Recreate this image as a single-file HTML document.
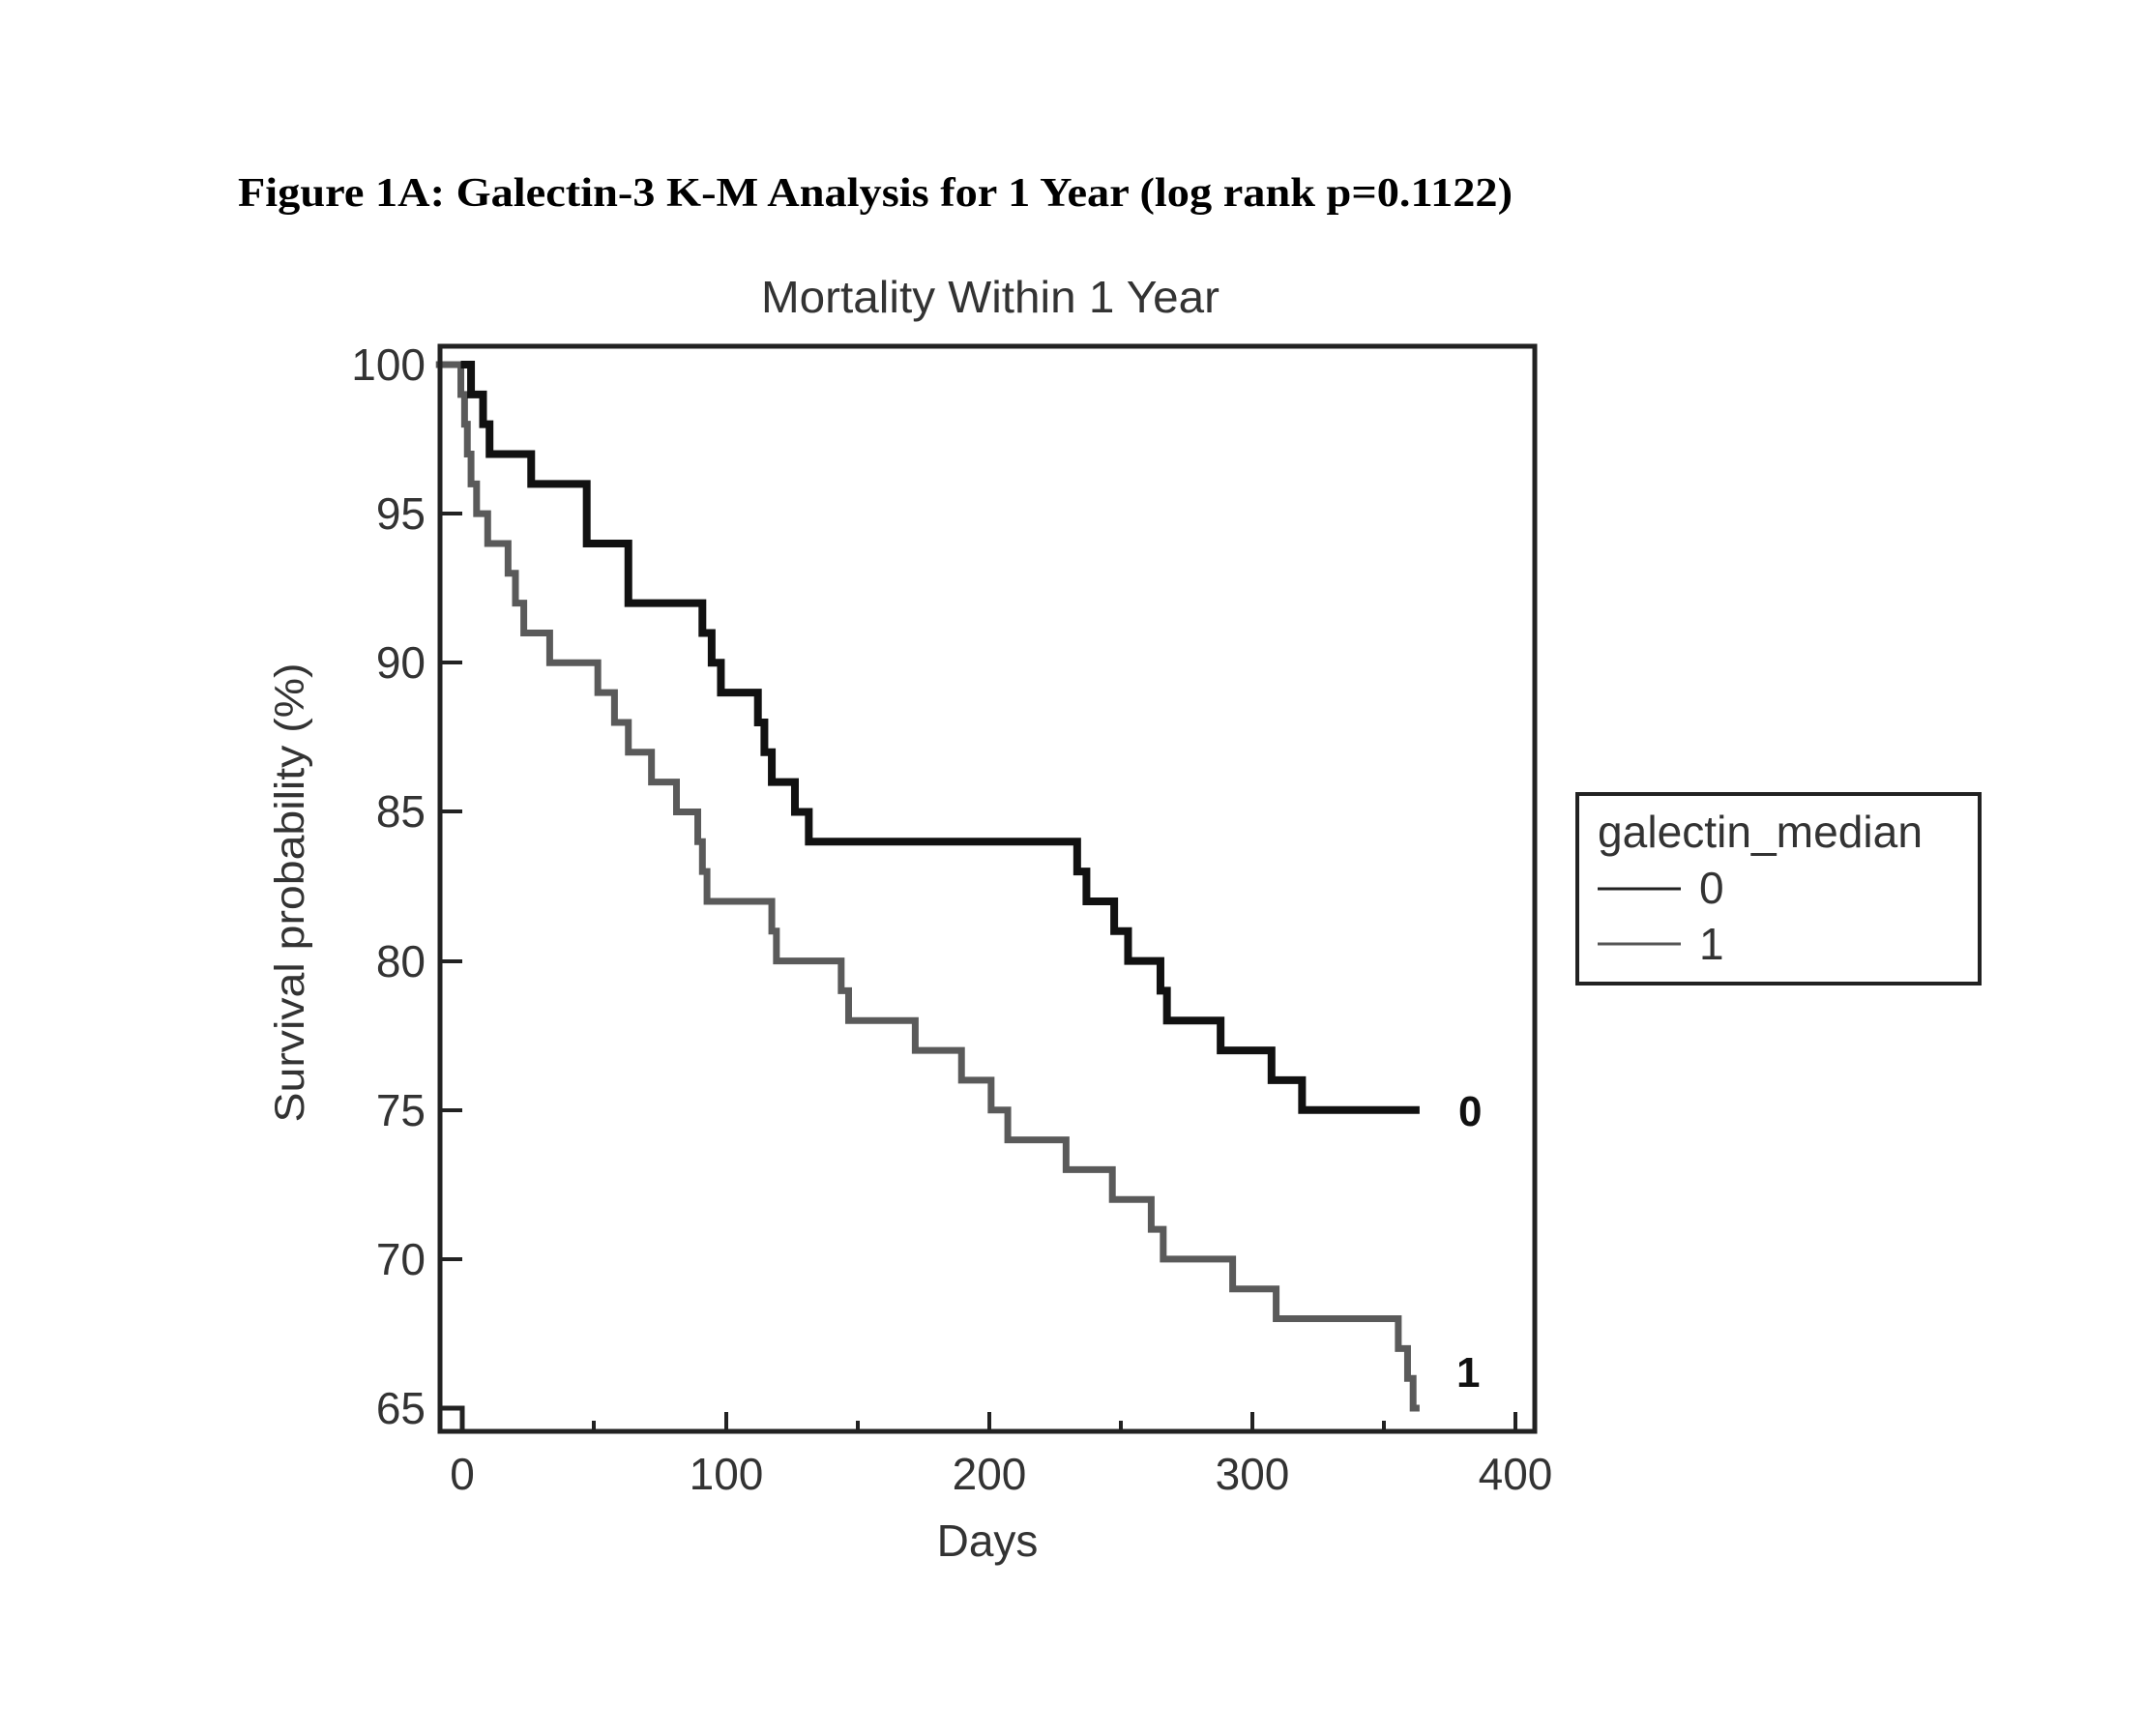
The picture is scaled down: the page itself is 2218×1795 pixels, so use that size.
<!DOCTYPE html>
<html><head><meta charset="utf-8"><style>
html,body{margin:0;padding:0;background:#fff;}
svg{display:block;}
</style></head><body>
<svg width="2218" height="1795" viewBox="0 0 2218 1795" xmlns="http://www.w3.org/2000/svg">
<rect width="2218" height="1795" fill="#fff"/>
<text x="246" y="213" font-family="Liberation Serif, serif" font-weight="bold" font-size="42" fill="#000" textLength="1318" lengthAdjust="spacingAndGlyphs">Figure 1A: Galectin-3 K-M Analysis for 1 Year (log rank p=0.1122)</text>
<text x="1024" y="323" text-anchor="middle" font-family="Liberation Sans, sans-serif" font-size="46" fill="#333" textLength="474" lengthAdjust="spacingAndGlyphs">Mortality Within 1 Year</text>

<!-- ticks -->
<g stroke="#222" stroke-width="4">
<line x1="455" y1="377" x2="478" y2="377"/>
<line x1="455" y1="531" x2="478" y2="531"/>
<line x1="455" y1="685" x2="478" y2="685"/>
<line x1="455" y1="839" x2="478" y2="839"/>
<line x1="455" y1="994" x2="478" y2="994"/>
<line x1="455" y1="1148" x2="478" y2="1148"/>
<line x1="455" y1="1302" x2="478" y2="1302"/>
<line x1="478" y1="1480" x2="478" y2="1458"/>
<line x1="751" y1="1480" x2="751" y2="1460"/>
<line x1="1023" y1="1480" x2="1023" y2="1460"/>
<line x1="1295" y1="1480" x2="1295" y2="1460"/>
<line x1="1567" y1="1480" x2="1567" y2="1460"/>
<line x1="614" y1="1480" x2="614" y2="1469"/>
<line x1="887" y1="1480" x2="887" y2="1469"/>
<line x1="1159" y1="1480" x2="1159" y2="1469"/>
<line x1="1431" y1="1480" x2="1431" y2="1469"/>
</g>
<path d="M455 1456 H478 V1480" fill="none" stroke="#222" stroke-width="5"/>

<g font-family="Liberation Sans, sans-serif" font-size="46" fill="#333" text-anchor="end">
<text x="440" y="393">100</text>
<text x="440" y="547">95</text>
<text x="440" y="701">90</text>
<text x="440" y="855">85</text>
<text x="440" y="1010">80</text>
<text x="440" y="1164">75</text>
<text x="440" y="1318">70</text>
<text x="440" y="1472">65</text>
</g>
<g font-family="Liberation Sans, sans-serif" font-size="46" fill="#333" text-anchor="middle">
<text x="478" y="1540">0</text>
<text x="751" y="1540">100</text>
<text x="1023" y="1540">200</text>
<text x="1295" y="1540">300</text>
<text x="1567" y="1540">400</text>
<text x="1021" y="1609">Days</text>
</g>
<text transform="translate(314,923) rotate(-90)" text-anchor="middle" font-family="Liberation Sans, sans-serif" font-size="43" fill="#333" textLength="475" lengthAdjust="spacingAndGlyphs">Survival probability (%)</text>

<!-- curves -->
<g transform="matrix(0.9569,0,0,-30.83,200,3460)" fill="none">
<path vector-effect="non-scaling-stroke" stroke="#5a5a5a" stroke-width="7" d="M262 100 H289 V99 H293 V98 H296 V97 H300 V96 H306 V95 H318 V94 H340 V93 H348 V92 H357 V91 H385 V90 H437 V89 H455 V88 H470 V87 H495 V86 H522 V85 H545 V84 H550 V83 H555 V82 H625 V81 H630 V80 H700 V79 H708 V78 H780 V77 H830 V76 H862 V75 H880 V74 H943 V73 H993 V72 H1035 V71 H1048 V70 H1123 V69 H1170 V68 H1302 V67 H1312 V66 H1318 V65 H1325"/>
<path vector-effect="non-scaling-stroke" stroke="#111" stroke-width="8" d="M289 100 H300 V99 H313 V98 H320 V97 H365 V96 H425 V94 H470 V92 H550 V91 H560 V90 H570 V89 H610 V88 H617 V87 H625 V86 H650 V85 H665 V84 H955 V83 H965 V82 H995 V81 H1010 V80 H1045 V79 H1052 V78 H1110 V77 H1165 V76 H1198 V75 H1325"/>
</g>

<rect x="455" y="358" width="1132" height="1122" fill="none" stroke="#222" stroke-width="5"/>

<g font-family="Liberation Sans, sans-serif" font-weight="bold" font-size="44" fill="#111">
<text x="1508" y="1164">0</text>
<text x="1506" y="1434">1</text>
</g>

<!-- legend -->
<rect x="1631" y="821" width="416" height="196" fill="#fff" stroke="#222" stroke-width="4"/>
<g font-family="Liberation Sans, sans-serif" font-size="46" fill="#333">
<text x="1652" y="876" textLength="336" lengthAdjust="spacingAndGlyphs">galectin_median</text>
<text x="1757" y="934">0</text>
<text x="1757" y="992">1</text>
</g>
<line x1="1652" y1="919" x2="1738" y2="919" stroke="#222" stroke-width="3"/>
<line x1="1652" y1="976" x2="1738" y2="976" stroke="#555" stroke-width="3"/>
</svg>
</body></html>
